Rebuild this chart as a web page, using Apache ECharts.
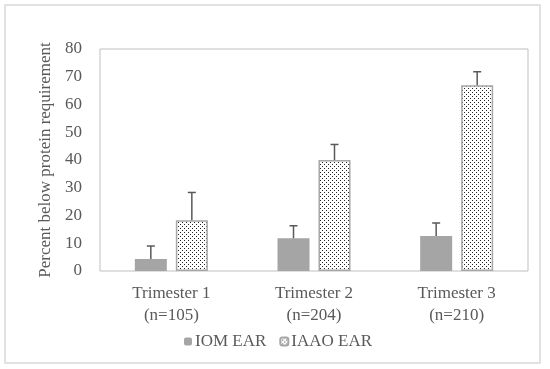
<!DOCTYPE html>
<html>
<head>
<meta charset="utf-8">
<script src="https://cdn.jsdelivr.net/npm/echarts@6/dist/echarts.min.js"></script>
<style>html,body{margin:0;padding:0;background:#fff}#c{width:550px;height:369px}</style>
</head>
<body>
<div id="c"></div>
<script>
const categories = ['Trimester 1\n(n=105)', 'Trimester 2\n(n=204)', 'Trimester 3\n(n=210)'];
const seriesNames = ['IOM EAR', 'IAAO EAR'];
const iomValues = [4.3, 11.8, 12.6];
const iomErrors = [4.7, 4.5, 4.7];
const iaaoValues = [18.3, 40, 66.9];
const iaaoErrors = [10, 5.6, 4.9];
const yTicks = {min: 0, max: 80, interval: 10};

const FONT = 'Liberation Serif';
const pc = document.createElement('canvas');
pc.width = 4; pc.height = 4;
const g = pc.getContext('2d');
g.fillStyle = '#fff'; g.fillRect(0, 0, 4, 4);
g.fillStyle = '#222';
g.fillRect(0, 0, 1, 1);
g.fillRect(2, 2, 1, 1);

const BAR_W = 32, GAP = 9;
function errSeries(vals, errs, side) {
  return {
    type: 'custom',
    z: 5,
    silent: true,
    data: vals.map((v, i) => [i, v, v + errs[i]]),
    renderItem: function (params, api) {
      const x = api.value(0);
      const p0 = api.coord([x, api.value(1)]);
      const p1 = api.coord([x, api.value(2)]);
      const off = side * (BAR_W + GAP) / 2;
      const cx = p0[0] + off;
      const st = {stroke: '#595959', lineWidth: 1.5};
      return {type: 'group', children: [
        {type: 'line', shape: {x1: cx, y1: p0[1], x2: cx, y2: p1[1]}, style: st},
        {type: 'line', shape: {x1: cx - 4, y1: p1[1], x2: cx + 4, y2: p1[1]}, style: st}
      ]};
    }
  };
}

const chart = echarts.init(document.getElementById('c'), null, {renderer: 'canvas'});
chart.setOption({
  animation: false,
  backgroundColor: '#fff',
  textStyle: {fontFamily: FONT},
  graphic: [{type: 'rect', shape: {x: 5, y: 5, width: 535, height: 358},
    style: {fill: 'none', stroke: '#d9d9d9', lineWidth: 1.5}, silent: true}],
  grid: {left: 100, right: 22, top: 49, bottom: 98, show: true, borderColor: '#bfbfbf', borderWidth: 1},
  legend: {
    left: 179, top: 328, itemWidth: 8, itemHeight: 8, itemGap: 13,
    textStyle: {fontFamily: FONT, fontSize: 17, color: '#595959', padding: [0, 0, 0, -2]},
    data: seriesNames
  },
  xAxis: {
    type: 'category', data: categories,
    axisLine: {show: false}, axisTick: {show: false},
    axisLabel: {fontFamily: FONT, fontSize: 17, color: '#595959', lineHeight: 22, margin: 12}
  },
  yAxis: {
    type: 'value', min: yTicks.min, max: yTicks.max, interval: yTicks.interval,
    name: 'Percent below protein requirement', nameLocation: 'middle', nameGap: 44,
    nameTextStyle: {fontFamily: FONT, fontSize: 17, color: '#595959'},
    axisLine: {show: false}, axisTick: {show: false}, splitLine: {show: false},
    axisLabel: {fontFamily: FONT, fontSize: 17, color: '#595959', margin: 18}
  },
  series: [
    {name: seriesNames[0], type: 'bar', data: iomValues, barWidth: BAR_W, barGap: (GAP / BAR_W * 100) + '%',
     itemStyle: {color: '#a5a5a5'}},
    {name: seriesNames[1], type: 'bar', data: iaaoValues, barWidth: BAR_W,
     itemStyle: {color: {image: pc, repeat: 'repeat'}, borderColor: '#a6a6a6', borderWidth: 1.5}},
    errSeries(iomValues, iomErrors, -1),
    errSeries(iaaoValues, iaaoErrors, 1)
  ]
});
</script>
</body>
</html>
